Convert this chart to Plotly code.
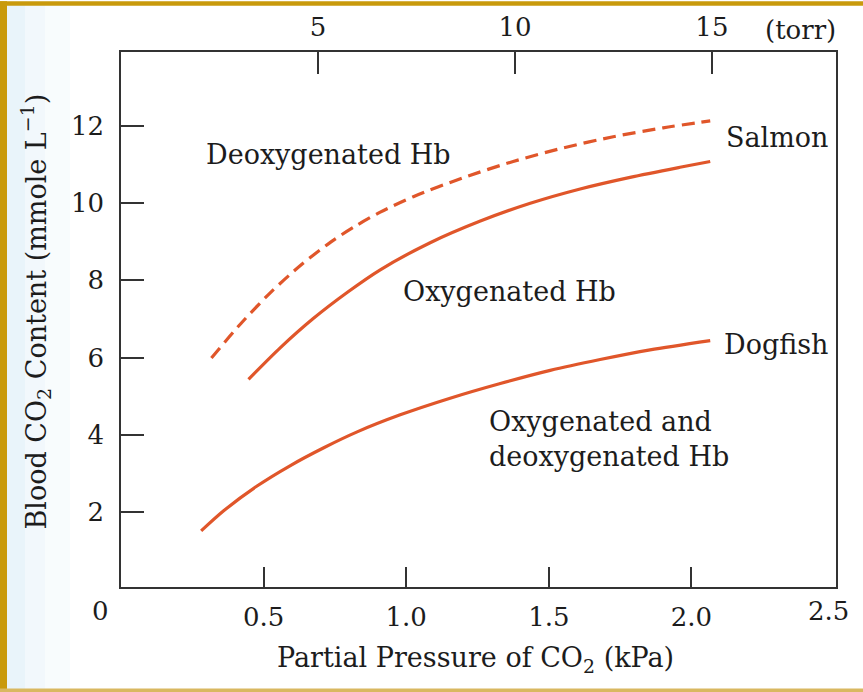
import plotly.graph_objects as go

# ---- data ----
# Salmon, deoxygenated Hb (dashed)
salmon_deoxy_kpa = [0.317, 0.419, 0.524, 0.629, 0.734, 0.822, 0.909, 1.025, 1.200, 1.375, 1.550, 1.726, 1.901, 2.066]
salmon_deoxy_co2 = [5.99, 6.87, 7.68, 8.38, 8.98, 9.40, 9.76, 10.16, 10.65, 11.07, 11.42, 11.71, 11.94, 12.12]

# Salmon, oxygenated Hb (solid)
salmon_oxy_kpa = [0.447, 0.559, 0.674, 0.794, 0.909, 1.084, 1.260, 1.435, 1.610, 1.785, 1.960, 2.066]
salmon_oxy_co2 = [5.44, 6.26, 7.01, 7.69, 8.27, 8.97, 9.53, 9.99, 10.36, 10.66, 10.92, 11.07]

# Dogfish, oxygenated and deoxygenated Hb (solid)
dogfish_kpa = [0.281, 0.360, 0.477, 0.594, 0.711, 0.828, 0.979, 1.154, 1.330, 1.505, 1.680, 1.855, 2.066]
dogfish_co2 = [1.52, 2.04, 2.68, 3.21, 3.67, 4.08, 4.52, 4.95, 5.33, 5.67, 5.95, 6.20, 6.44]

# ticks
kpa_ticks = [0.5, 1.0, 1.5, 2.0]
kpa_ticktext = ["0.5", "1.0", "1.5", "2.0"]
co2_ticks = [2, 4, 6, 8, 10, 12]
torr_ticks = [5, 10, 15]
torr_ticktext = ["5", "10", "15"]

RED = "#E0562A"
INK = "#1c1c1c"
AXC = "#333333"
FONT = "DejaVu Serif"
FS = 27

fig = go.Figure()
fig.add_trace(go.Scatter(x=salmon_deoxy_kpa, y=salmon_deoxy_co2, mode="lines",
                         line=dict(color=RED, width=3.2, dash="13px,7px", shape="spline", smoothing=0.8),
                         showlegend=False, hoverinfo="skip"))
fig.add_trace(go.Scatter(x=salmon_oxy_kpa, y=salmon_oxy_co2, mode="lines",
                         line=dict(color=RED, width=3.2, shape="spline", smoothing=0.8),
                         showlegend=False, hoverinfo="skip"))
fig.add_trace(go.Scatter(x=dogfish_kpa, y=dogfish_co2, mode="lines",
                         line=dict(color=RED, width=3.2, shape="spline", smoothing=0.8),
                         showlegend=False, hoverinfo="skip"))
# dummy trace to anchor the torr axis
fig.add_trace(go.Scatter(x=[None], y=[None], xaxis="x2", yaxis="y", mode="lines",
                         showlegend=False, hoverinfo="skip"))

font = dict(family=FONT, size=FS, color=INK)
tfont = dict(family=FONT, size=26, color=INK)

fig.update_layout(
    width=863, height=692,
    margin=dict(l=121, r=27, t=49, b=105),
    paper_bgcolor="white", plot_bgcolor="white",
    font=font,
    xaxis=dict(range=[0, 2.507], tickvals=kpa_ticks, ticktext=kpa_ticktext,
               ticks="inside", ticklen=20, tickwidth=1.5, tickcolor=AXC,
               showline=True, linecolor=AXC, linewidth=1.5, mirror=False,
               showgrid=False, zeroline=False, tickfont=tfont, ticklabelstandoff=6),
    xaxis2=dict(range=[0, 18.15], tickvals=torr_ticks, ticktext=torr_ticktext,
                overlaying="x", side="top", anchor="y",
                ticks="inside", ticklen=22, tickwidth=1.5, tickcolor=AXC,
                showline=True, linecolor=AXC, linewidth=1.5,
                showgrid=False, zeroline=False, tickfont=tfont, ticklabelstandoff=4),
    yaxis=dict(range=[0.07, 13.9], tickvals=co2_ticks,
               ticks="inside", ticklen=23, tickwidth=1.5, tickcolor=AXC,
               showline=True, linecolor=AXC, linewidth=1.5, mirror=True,
               showgrid=False, zeroline=False, tickfont=tfont, ticklabelstandoff=10),
)

def px2paper_x(px):
    return (px - 121) / 715.0

def px2paper_y(py):
    return (587 - py) / 538.0

ann = []
# curve labels (data coords)
ann.append(dict(x=0.727, y=11.25, text="Deoxygenated Hb", xanchor="center", yanchor="middle"))
ann.append(dict(x=2.300, y=11.70, text="Salmon", xanchor="center", yanchor="middle"))
ann.append(dict(x=1.361, y=7.71, text="Oxygenated Hb", xanchor="center", yanchor="middle"))
ann.append(dict(x=2.108, y=6.35, text="Dogfish", xanchor="left", yanchor="middle"))
ann.append(dict(x=1.284, y=3.90, text="Oxygenated and<br>deoxygenated Hb", xanchor="left",
                yanchor="middle", align="left"))
for a in ann:
    a.update(xref="x", yref="y", showarrow=False, font=font)

paper_ann = [
    dict(x=px2paper_x(475), y=px2paper_y(660), text="Partial Pressure of CO<sub>2</sub> (kPa)"),
    dict(x=px2paper_x(36), y=px2paper_y(310), text="Blood CO<sub>2</sub> Content (mmole L<sup>\u22121</sup>)",
         textangle=-90),
    dict(x=px2paper_x(800), y=px2paper_y(27), text="(torr)"),
    dict(x=px2paper_x(100), y=px2paper_y(611), text="0"),
    dict(x=px2paper_x(828), y=px2paper_y(611), text="2.5"),
]
for a in paper_ann:
    a.update(xref="paper", yref="paper", showarrow=False, font=font,
             xanchor="center", yanchor="middle")
paper_ann[3]["font"] = tfont
paper_ann[4]["font"] = tfont
paper_ann[2]["font"] = tfont

fig.update_layout(annotations=ann + paper_ann)

# page frame: golden border and faint blue tint at the left
shapes = []
tints = [(7, 25, 0.45), (25, 45, 0.28), (45, 70, 0.14)]
for x0, x1, op in tints:
    shapes.append(dict(type="rect", xref="paper", yref="paper",
                       x0=px2paper_x(x0), x1=px2paper_x(x1),
                       y0=px2paper_y(692), y1=px2paper_y(0),
                       fillcolor="#CFE7F4", opacity=op, line=dict(width=0), layer="below"))
gold = "#C99A0C"
shapes.append(dict(type="rect", xref="paper", yref="paper",
                   x0=px2paper_x(-2), x1=px2paper_x(7), y0=px2paper_y(694), y1=px2paper_y(-2),
                   fillcolor=gold, line=dict(width=0), layer="above"))
shapes.append(dict(type="rect", xref="paper", yref="paper",
                   x0=px2paper_x(-2), x1=px2paper_x(866), y0=px2paper_y(2.5), y1=px2paper_y(-2),
                   fillcolor=gold, line=dict(width=0), layer="above"))
shapes.append(dict(type="rect", xref="paper", yref="paper",
                   x0=px2paper_x(-2), x1=px2paper_x(866), y0=px2paper_y(694), y1=px2paper_y(689),
                   fillcolor="#D9B860", line=dict(width=0), layer="above"))
fig.update_layout(shapes=shapes)

fig.write_html("out.html", config={"displayModeBar": False},
               post_script="document.body.style.margin='0px';document.body.style.padding='0px';"
                           "document.body.style.overflow='hidden';")
